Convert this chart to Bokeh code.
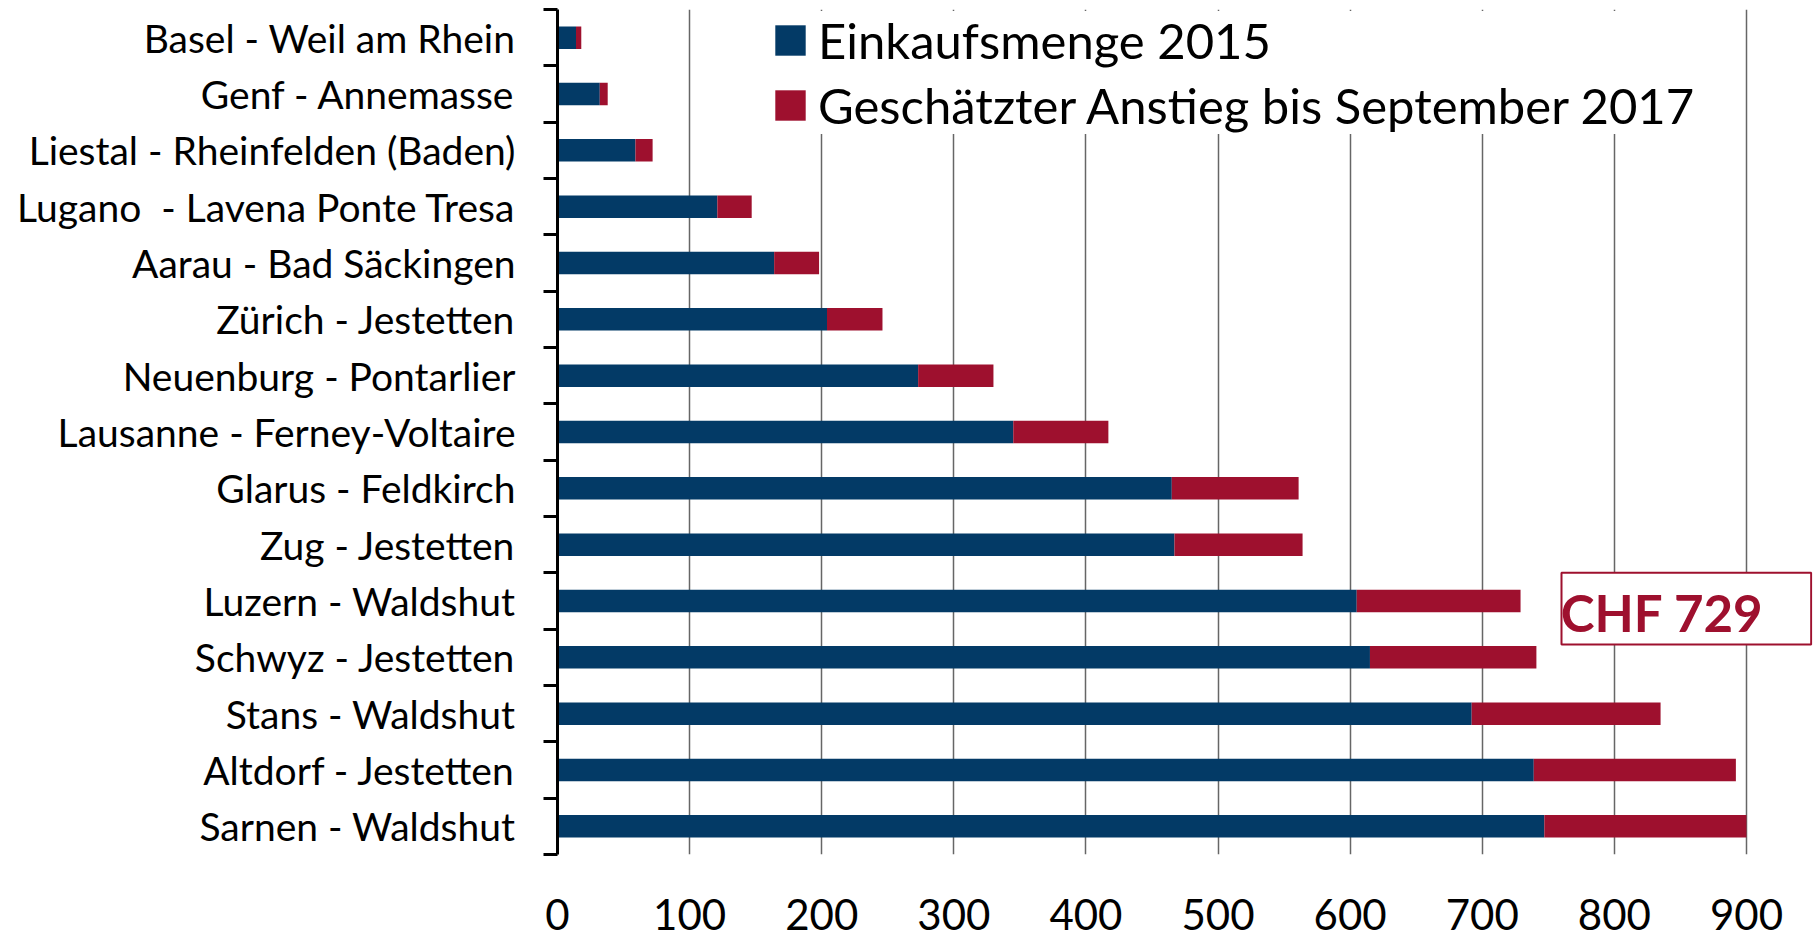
from bokeh.plotting import figure
from bokeh.models import (Range1d, FixedTicker, ColumnDataSource, Legend, LegendItem,
                          BoxAnnotation, Label)
from bokeh.embed import file_html
from bokeh.resources import INLINE

# ---------------- data ----------------
categories = [
    "Basel - Weil am Rhein",
    "Genf - Annemasse",
    "Liestal - Rheinfelden (Baden)",
    "Lugano  - Lavena Ponte Tresa",
    "Aarau - Bad Säckingen",
    "Zürich - Jestetten",
    "Neuenburg - Pontarlier",
    "Lausanne - Ferney-Voltaire",
    "Glarus - Feldkirch",
    "Zug - Jestetten",
    "Luzern - Waldshut",
    "Schwyz - Jestetten",
    "Stans - Waldshut",
    "Altdorf - Jestetten",
    "Sarnen - Waldshut",
]
einkauf_2015 = [14, 32, 59, 121, 164, 204, 273, 345, 465, 467, 605, 615, 692, 739, 747]
anstieg_2017 = [4, 6, 13, 26, 34, 42, 57, 72, 96, 97, 124, 126, 143, 153, 153]
series_names = ["Einkaufsmenge 2015", "Geschätzter Anstieg bis September 2017"]
x_ticks = [0, 100, 200, 300, 400, 500, 600, 700, 800, 900]
annotation_text = "CHF 729"
annotation_row = "Luzern - Waldshut"

BLUE = "#033A66"
RED = "#9E102E"
FONT = "Lato"

n = len(categories)
pos = [i + 0.5 for i in range(n)]
src = ColumnDataSource(dict(pos=pos, cat=categories, base=einkauf_2015, inc=anstieg_2017))

p = figure(width=1818, height=940, x_range=Range1d(0, 950), y_range=Range1d(n, 0),
           output_backend="svg", toolbar_location=None,
           min_border_left=557, min_border_right=6, min_border_top=9, min_border_bottom=86)
p.outline_line_color = None
p.background_fill_color = "white"

renderers = p.hbar_stack(["base", "inc"], y="pos", height=0.4, source=src,
                         color=[BLUE, RED], line_color=None)

# x axis (labels only) + vertical grid
xa = p.xaxis[0]
xa.ticker = FixedTicker(ticks=x_ticks)
xa.axis_line_color = None
xa.major_tick_line_color = None
xa.minor_tick_line_color = None
xa.major_tick_out = 0
xa.minor_tick_out = 0
xa.major_label_standoff = 44
xa.major_label_text_font = FONT
xa.major_label_text_font_size = "42px"
xa.major_label_text_color = "black"

p.xgrid.ticker = FixedTicker(ticks=x_ticks[1:])
p.xgrid.grid_line_color = "#666666"
p.xgrid.grid_line_width = 1.5
p.ygrid.grid_line_color = None

# y axis: labels at row centres, tick marks at row boundaries
ya = p.yaxis[0]
ya.ticker = FixedTicker(ticks=pos, minor_ticks=list(range(n + 1)))
ya.major_label_overrides = {pp: c.replace("  ", " \u00a0") for pp, c in zip(pos, categories)}
ya.major_tick_line_color = None
ya.major_tick_out = 0
ya.major_tick_in = 0
ya.minor_tick_out = 14
ya.minor_tick_in = 0
ya.minor_tick_line_color = "black"
ya.minor_tick_line_width = 3
ya.axis_line_color = "black"
ya.axis_line_width = 3
ya.major_label_standoff = 28
ya.major_label_text_font = FONT
ya.major_label_text_font_size = "39px"
ya.major_label_text_color = "black"

legend = Legend(items=[LegendItem(label=series_names[0], renderers=[renderers[0]]),
                       LegendItem(label=series_names[1], renderers=[renderers[1]])],
                location=(214, 720), glyph_width=38, glyph_height=38, label_height=30,
                label_standoff=9, padding=3, spacing=7, margin=0,
                border_line_color=None, background_fill_color="white", background_fill_alpha=1,
                label_text_font=FONT, label_text_font_size="49px", label_text_color="black")
p.add_layout(legend)

row = categories.index(annotation_row)
box = BoxAnnotation(left=760, right=949, top=row, bottom=row + 1.27,
                    fill_color="white", fill_alpha=1, line_color=RED, line_alpha=1,
                    line_width=2)
p.add_layout(box)
lab = Label(x=759.5, y=row + 0.71, text=annotation_text, text_font=FONT,
            text_font_style="bold", text_font_size="51px", text_color=RED,
            text_align="left", text_baseline="alphabetic")
p.add_layout(lab)

open("out.html", "w").write(file_html(p, INLINE))
